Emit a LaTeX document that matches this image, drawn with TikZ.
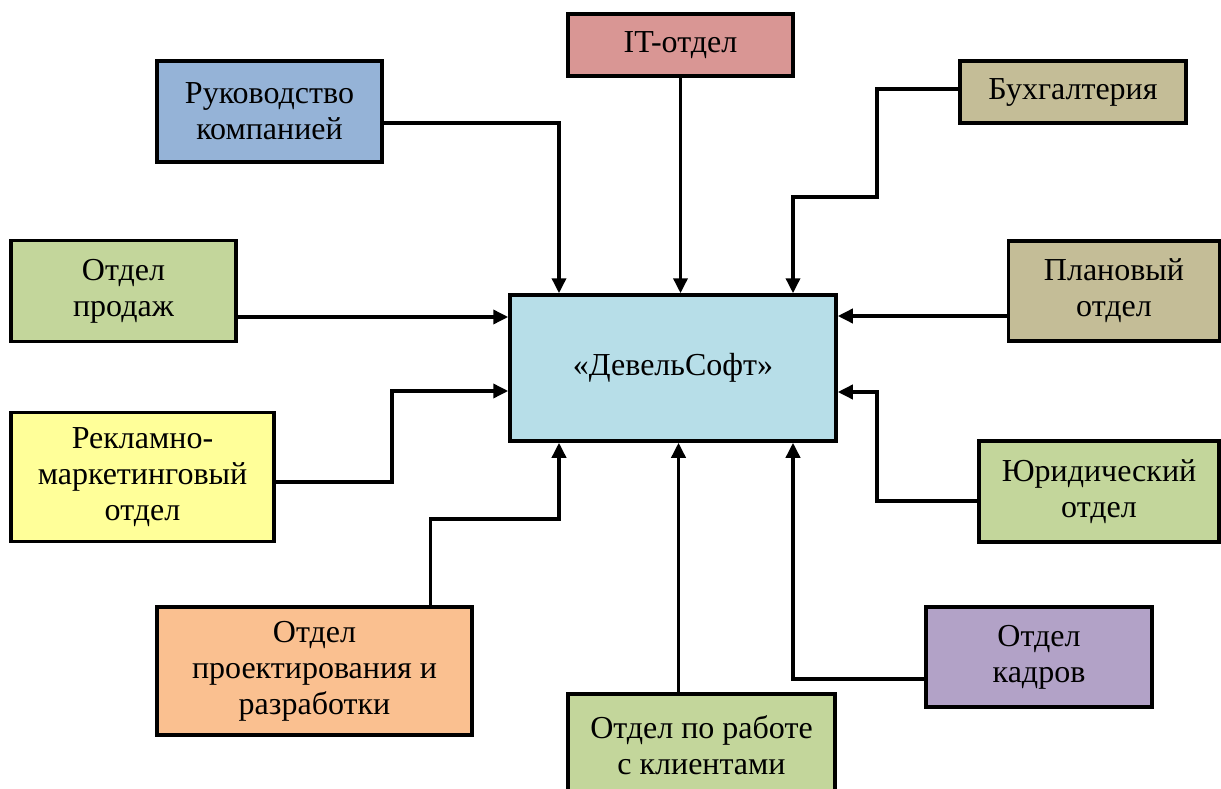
\documentclass[tikz,border=0pt]{standalone}
\usepackage{fontspec}
\setmainfont{Liberation Serif}
\usepackage{tikz}
\usetikzlibrary{arrows.meta, positioning}
\definecolor{itred}{HTML}{D99694}
\definecolor{bossblue}{HTML}{95B3D7}
\definecolor{khaki}{HTML}{C4BD97}
\definecolor{olive}{HTML}{C3D69B}
\definecolor{lemon}{HTML}{FFFF99}
\definecolor{peach}{HTML}{FAC090}
\definecolor{lilac}{HTML}{B2A2C7}
\definecolor{sky}{HTML}{B7DEE8}

\begin{document}
\begin{tikzpicture}[x=1pt, y=-1pt,
    every node/.style={font=\fontsize{32}{36}\selectfont, align=center, inner sep=0pt},
    dept/.style={draw, line width=3.5pt, rectangle},
    arr/.style={line width=3.5pt, -{Triangle[length=15pt, width=14pt]}}]
    \useasboundingbox (0,0) rectangle (1221,789);

    \node[dept, fill=sky, minimum width=326pt, minimum height=146pt] (firm) at (673,368) {«ДевельСофт»};
    \node[dept, fill=itred, minimum width=225pt, minimum height=62pt] (it) at (680.5,45) {IT-отдел};
    \node[dept, fill=bossblue, minimum width=225pt, minimum height=101pt] (boss) at (269.5,111.5) {Руководство\\компанией};
    \node[dept, fill=khaki, minimum width=226pt, minimum height=62pt] (acc) at (1073,92) {Бухгалтерия};
    \node[dept, fill=olive, minimum width=225pt, minimum height=101pt] (sales) at (123.5,291) {Отдел\\продаж};
    \node[dept, fill=khaki, minimum width=211pt, minimum height=100pt] (plan) at (1114,291) {Плановый\\отдел};
    \node[dept, fill=lemon, minimum width=263pt, minimum height=129pt] (mkt) at (142.5,477) {Рекламно-\\маркетинговый\\отдел};
    \node[dept, fill=olive, minimum width=240pt, minimum height=101pt] (law) at (1099,491.5) {Юридический\\отдел};
    \node[dept, fill=peach, minimum width=315pt, minimum height=128pt] (dev) at (314.5,671) {Отдел\\проектирования и\\разработки};
    \node[dept, fill=olive, minimum width=267pt, minimum height=102pt] (client) at (701.5,745) {Отдел по работе\\с клиентами};
    \node[dept, fill=lilac, minimum width=226pt, minimum height=100pt] (hr) at (1039,657) {Отдел\\кадров};

    \draw[arr] ([yshift=-11.5pt]boss.east) -| ([xshift=-114pt]firm.north);
    \draw[arr] (it.south) -- (it.south |- firm.north);
    \draw[arr] ([yshift=3pt]acc.west) -| (877,197) -| ([xshift=120pt]firm.north);
    \draw[arr] ([yshift=-26pt]sales.east) -- ([yshift=-26pt]sales.east -| firm.west);
    \draw[arr] ([yshift=-25pt]plan.west) -- ([yshift=-25pt]plan.west -| firm.east);
    \draw[arr] ([yshift=-5pt]mkt.east) -| (392,391) -- ([yshift=-23pt]firm.west);
    \draw[arr] ([yshift=-9.5pt]law.west) -| (877,392) -- ([yshift=-24pt]firm.east);
    \draw[arr] ([xshift=116pt]dev.north) |- (559,519) -- ([xshift=-114pt]firm.south);
    \draw[arr] ([xshift=-23pt]client.north) -- ([xshift=-23pt]client.north |- firm.south);
    \draw[arr] ([yshift=-22pt]hr.west) -| ([xshift=120pt]firm.south);
\end{tikzpicture}
\end{document}
